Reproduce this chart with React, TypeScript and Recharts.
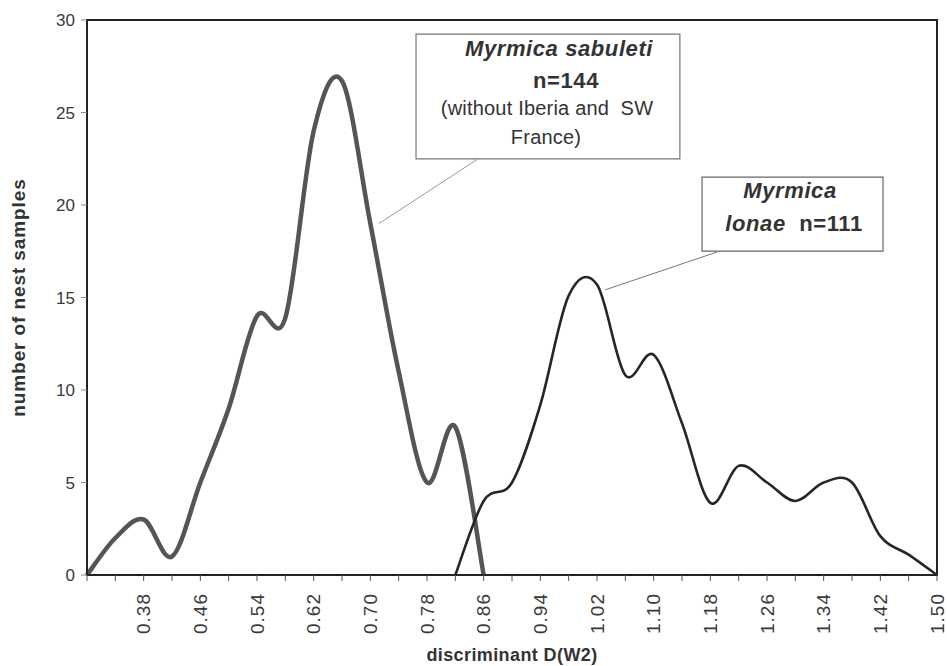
import React from 'react';
import { LineChart, Line, XAxis, YAxis, ReferenceArea, ReferenceLine, Label } from 'recharts';

// ---- data ----
const xValues = [0.30, 0.34, 0.38, 0.42, 0.46, 0.50, 0.54, 0.58, 0.62, 0.66, 0.70, 0.74, 0.78, 0.82, 0.86, 0.90, 0.94, 0.98, 1.02, 1.06, 1.10, 1.14, 1.18, 1.22, 1.26, 1.30, 1.34, 1.38, 1.42, 1.46, 1.50];
const sabuleti = [0, 2, 3, 1, 5, 9, 14, 13.9, 24, 26.7, 19, 11, 5, 8, 0, null, null, null, null, null, null, null, null, null, null, null, null, null, null, null, null];
const lonae = [null, null, null, null, null, null, null, null, null, null, null, null, null, 0, 4, 5, 9.2, 15.1, 15.7, 10.8, 11.9, 8.2, 3.9, 5.9, 5, 4, 5, 5, 2.1, 1.1, 0];
const xTicks = xValues;
const xLabelTicks = [0.38, 0.46, 0.54, 0.62, 0.70, 0.78, 0.86, 0.94, 1.02, 1.10, 1.18, 1.26, 1.34, 1.42, 1.50];
const yTicks = [0, 5, 10, 15, 20, 25, 30];

const box1 = { x1: 0.7645, x2: 1.137, y1: 22.49, y2: 29.24 };
const box2 = { x1: 1.1683, x2: 1.4238, y1: 17.51, y2: 21.51 };
const leader1 = [{ x: 0.7123, y: 19.0 }, { x: 0.852, y: 22.49 }];
const leader2 = [{ x: 1.0313, y: 15.41 }, { x: 1.1895, y: 17.46 }];

const data = xValues.map((x, i) => ({ x, sabuleti: sabuleti[i], lonae: lonae[i] }));

const FONT = '"Liberation Sans", Arial, Helvetica, sans-serif';

// Excel-like smoothing (Catmull-Rom through points)
function smoothCurve(context: any) {
  let pts: number[][] = [];
  return {
    areaStart() {},
    areaEnd() {},
    lineStart() { pts = []; },
    point(x: number, y: number) { pts.push([+x, +y]); },
    lineEnd() {
      if (!pts.length) return;
      context.moveTo(pts[0][0], pts[0][1]);
      if (pts.length === 1) return;
      for (let i = 0; i < pts.length - 1; i++) {
        const p0 = pts[i - 1] || pts[i];
        const p1 = pts[i];
        const p2 = pts[i + 1];
        const p3 = pts[i + 2] || p2;
        context.bezierCurveTo(
          p1[0] + (p2[0] - p0[0]) / 6, p1[1] + (p2[1] - p0[1]) / 6,
          p2[0] - (p3[0] - p1[0]) / 6, p2[1] - (p3[1] - p1[1]) / 6,
          p2[0], p2[1]
        );
      }
    },
  };
}

const XTick = (props: any) => {
  const { x, y, payload } = props;
  const v = payload.value;
  const show = xLabelTicks.some((t) => Math.abs(t - v) < 1e-6);
  if (!show) return <g />;
  return (
    <text x={x} y={y} dy="0.36em" transform={`rotate(-90, ${x}, ${y})`} textAnchor="end"
      fontFamily={FONT} fontSize={19} letterSpacing={1} fill="#3a3a3a">
      {v.toFixed(2)}
    </text>
  );
};

const YTitle = (props: any) => {
  const vb = props.viewBox || {};
  const cy = vb.y + vb.height / 2;
  const x = 25;
  return (
    <text x={x} y={cy} transform={`rotate(-90, ${x}, ${cy})`} textAnchor="middle"
      fontFamily={FONT} fontSize={19} fontWeight="bold" letterSpacing={0.9} fill="#333">
      number of nest samples
    </text>
  );
};

const XTitle = (props: any) => {
  const vb = props.viewBox || {};
  const cx = vb.x + vb.width / 2;
  return (
    <text x={cx} y={661} textAnchor="middle" fontFamily={FONT} fontSize={18} fontWeight="bold"
      letterSpacing={0.4} fill="#333">
      discriminant D(W2)
    </text>
  );
};

const Box1Text = (props: any) => {
  const vb = props.viewBox || {};
  const bx = vb.x, by = vb.y;
  return (
    <g fontFamily={FONT} fill="#333">
      <text x={bx + 143} y={by + 22} textAnchor="middle" fontSize={22} fontWeight="bold" fontStyle="italic" letterSpacing={0.6}>Myrmica sabuleti</text>
      <text x={bx + 150} y={by + 54} textAnchor="middle" fontSize={22} fontWeight="bold" letterSpacing={0.6}>n=144</text>
      <text x={bx + 131} y={by + 81} textAnchor="middle" fontSize={20} letterSpacing={0.2}>{'(without Iberia and\u00a0\u00a0SW'}</text>
      <text x={bx + 130} y={by + 110} textAnchor="middle" fontSize={20} letterSpacing={0.2}>France)</text>
    </g>
  );
};

const Box2Text = (props: any) => {
  const vb = props.viewBox || {};
  const bx = vb.x, by = vb.y;
  return (
    <g fontFamily={FONT} fill="#333">
      <text x={bx + 88} y={by + 21} textAnchor="middle" fontSize={22} fontWeight="bold" fontStyle="italic" letterSpacing={0.6}>Myrmica</text>
      <text x={bx + 92} y={by + 54} textAnchor="middle" fontSize={22} fontWeight="bold" letterSpacing={0.6}>
        <tspan fontStyle="italic">lonae</tspan>
        <tspan>{'\u00a0\u00a0n=111'}</tspan>
      </text>
    </g>
  );
};

export default function App() {
  return (
    <div style={{ position: 'absolute', left: 0, top: 0, background: '#fff' }}>
      <LineChart width={947} height={666} data={data} margin={{ top: 20, right: 10, bottom: 0, left: 0 }}
        style={{ fontFamily: FONT }}>
        <XAxis dataKey="x" type="number" domain={[0.30, 1.50]} ticks={xTicks} interval={0}
          tick={<XTick />} tickSize={6} tickMargin={12} height={91}
          axisLine={{ stroke: '#222', strokeWidth: 2 }} tickLine={{ stroke: '#555' }}>
          <Label content={<XTitle />} />
        </XAxis>
        <YAxis type="number" domain={[0, 30]} ticks={yTicks} interval={0} width={87}
          tickSize={6} tickMargin={6}
          tick={{ fontSize: 17, fill: '#3a3a3a', fontFamily: FONT }}
          axisLine={{ stroke: '#222', strokeWidth: 2 }} tickLine={{ stroke: '#888' }}>
          <Label content={<YTitle />} />
        </YAxis>
        <ReferenceArea x1={0.30} x2={1.50} y1={0} y2={30} fill="none" stroke="#222" strokeWidth={2} />
        <ReferenceLine segment={leader1} stroke="#999" strokeWidth={1} />
        <ReferenceLine segment={leader2} stroke="#777" strokeWidth={1} />
        <ReferenceArea x1={box1.x1} x2={box1.x2} y1={box1.y1} y2={box1.y2} fill="#fff" fillOpacity={1} stroke="#777" strokeWidth={1.2}>
          <Label content={<Box1Text />} />
        </ReferenceArea>
        <ReferenceArea x1={box2.x1} x2={box2.x2} y1={box2.y1} y2={box2.y2} fill="#fff" fillOpacity={1} stroke="#666" strokeWidth={1.2}>
          <Label content={<Box2Text />} />
        </ReferenceArea>
        <Line dataKey="sabuleti" type={smoothCurve as any} stroke="#555" strokeWidth={4.5} dot={false}
          activeDot={false} isAnimationActive={false} connectNulls={false} />
        <Line dataKey="lonae" type={smoothCurve as any} stroke="#262626" strokeWidth={2.6} dot={false}
          activeDot={false} isAnimationActive={false} connectNulls={false} />
      </LineChart>
    </div>
  );
}
